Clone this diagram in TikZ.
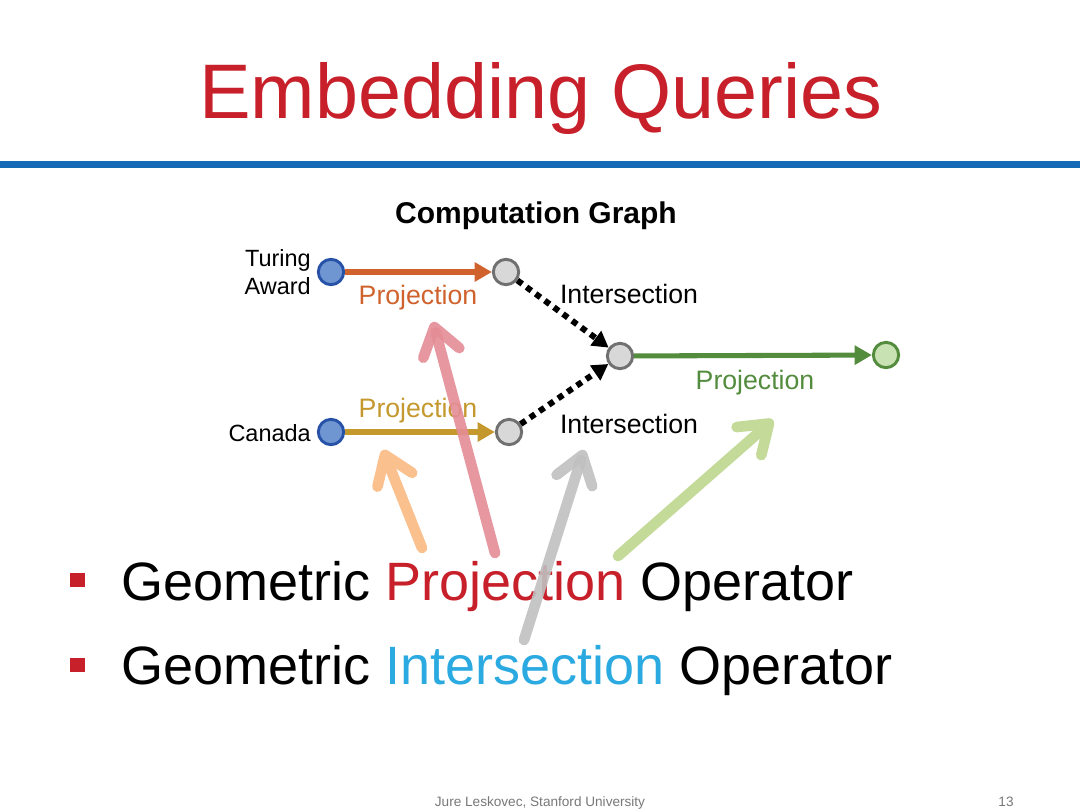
\documentclass[tikz,border=0pt]{standalone}
\usepackage{fontspec}
\setmainfont{Liberation Sans}
\usetikzlibrary{arrows.meta}
\definecolor{titlered}{RGB}{200,32,42}
\definecolor{rulecol}{RGB}{20,106,180}
\definecolor{projorange}{RGB}{208,98,45}
\definecolor{projgold}{RGB}{196,152,45}
\definecolor{projgreen}{RGB}{84,140,62}
\definecolor{nodeblue}{RGB}{112,150,210}
\definecolor{nodeblueb}{RGB}{40,82,168}
\definecolor{nodegray}{RGB}{216,216,216}
\definecolor{nodegrayb}{RGB}{112,112,112}
\definecolor{nodegreen}{RGB}{200,226,180}
\definecolor{interblue}{RGB}{42,170,224}
\definecolor{bigpink}{RGB}{228,140,150}
\definecolor{bigorange}{RGB}{250,192,142}
\definecolor{biggray}{RGB}{192,192,192}
\definecolor{biggreen}{RGB}{196,218,152}
\definecolor{footgray}{RGB}{120,120,120}
\tikzset{
  vert/.style={circle, minimum size=19pt, inner sep=0pt, line width=2.2pt},
  inputnode/.style={vert, draw=nodeblueb, fill=nodeblue},
  opnode/.style={vert, draw=nodegrayb, fill=nodegray},
  outnode/.style={vert, draw=projgreen, fill=nodegreen},
  lbl/.style={font=\fontsize{17.6}{20}\selectfont, inner sep=0pt},
  oplbl/.style={font=\fontsize{20}{22}\selectfont, inner sep=0pt},
  projarrow/.style={line width=3.8pt, -{Triangle[length=13pt,width=14pt]}},
  interarrow/.style={line width=4.5pt, dash pattern=on 4.5pt off 4pt, -{Triangle[length=12pt,width=13pt]}},
  bigarrow/.style={line width=8pt, line cap=round, -{Straight Barb[length=20pt,width=28pt,round]}},
  bulletsq/.style={fill=titlered, minimum size=11pt, inner sep=0pt},
  bullettext/.style={font=\fontsize{40.5}{44}\selectfont, inner sep=0pt, anchor=base west},
  foottext/.style={anchor=base, inner sep=0pt, text=footgray, font=\fontsize{10.2}{12}\selectfont}
}
\begin{document}
\begin{tikzpicture}[x=0.75pt,y=-0.75pt]
\useasboundingbox (0,0) rectangle (1080,810);
\fill[white] (0,0) rectangle (1080,810);

% title and rule
\node[anchor=base, inner sep=0pt, text=titlered, font=\fontsize{58}{60}\selectfont] (title) at (541,118) {Embedding Queries};
\draw[rulecol, line width=5.25pt] (0,164.5) -- (1080,164.5);

% computation graph
\node[anchor=base, inner sep=0pt, font=\bfseries\fontsize{22.5}{24}\selectfont] (cgtitle) at (536,223) {Computation Graph};

\node[inputnode] (ta) at (331,272) {};
\node[inputnode] (ca) at (331,432) {};
\node[opnode] (p1) at (506,272) {};
\node[opnode] (p2) at (509,432) {};
\node[opnode] (in) at (620,356) {};
\node[outnode] (out) at (886,355) {};

\node[lbl, anchor=east, align=right] (talbl) at (311,272) {Turing\\[1pt]Award};
\node[lbl, anchor=east] (calbl) at (311,433) {Canada};

\draw[projarrow, projorange] (ta) -- (p1);
\draw[projarrow, projgold] (ca) -- (p2);
\draw[interarrow] (p1) -- (in);
\draw[interarrow] (p2) -- (in);
\draw[projarrow, projgreen] (in) -- (out);

\node[oplbl, text=projorange] (pl1) at (418,298) {Projection};
\node[oplbl, text=projgold] (pl2) at (418,411) {Projection};
\node[oplbl] (il1) at (629,294) {Intersection};
\node[oplbl] (il2) at (629,424) {Intersection};
\node[oplbl, text=projgreen] (pl3) at (755,383) {Projection};

% bullets
\node[bulletsq] (b1) at (77.5,580) {};
\node[bulletsq] (b2) at (77.5,665) {};
\node[bullettext] (t1) at (121,600) {Geometric \textcolor{titlered}{Projection} Operator};
\node[bullettext] (t2) at (121,684) {Geometric \textcolor{interblue}{Intersection} Operator};

% pointer arrows
\coordinate (pinkT) at (495,553);
\coordinate (pinkH) at (433,322);
\coordinate (orT) at (422,548);
\coordinate (orH) at (383,450);
\coordinate (grT) at (524,640);
\coordinate (grH) at (584,450);
\coordinate (gnT) at (618,556);
\coordinate (gnH) at (773,420);
\draw[bigarrow, bigorange] (orT) -- (orH);
\draw[bigarrow, bigpink, opacity=0.9] (pinkT) -- (pinkH);
\draw[bigarrow, biggray, opacity=0.9] (grT) -- (grH);
\draw[bigarrow, biggreen] (gnT) -- (gnH);

% footer
\node[foottext] (foot) at (540,806) {Jure Leskovec, Stanford University};
\node[foottext] (pg) at (1006,806) {13};
\end{tikzpicture}
\end{document}
